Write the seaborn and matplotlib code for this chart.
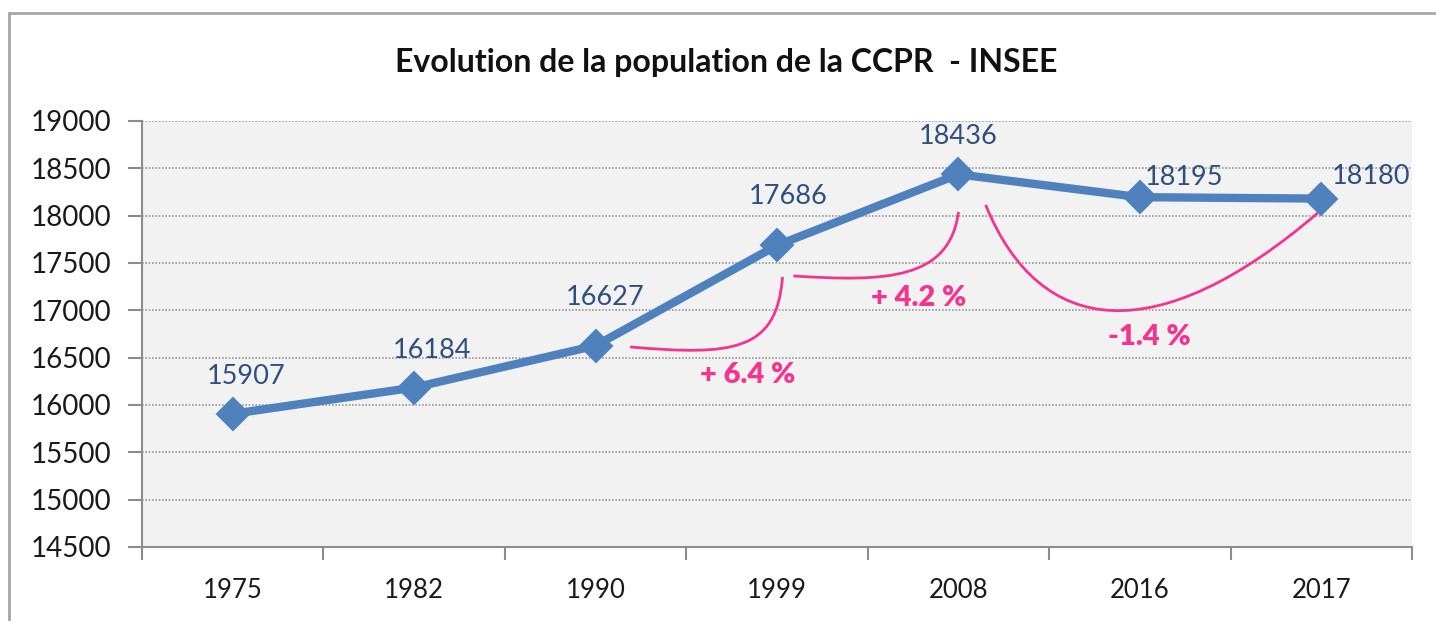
import pandas as pd
import matplotlib.pyplot as plt
import seaborn as sns
from matplotlib.path import Path
from matplotlib.patches import PathPatch
from matplotlib.lines import Line2D

# Data
annees = ["1975", "1982", "1990", "1999", "2008", "2016", "2017"]
population = [15907, 16184, 16627, 17686, 18436, 18195, 18180]
evolutions = ["+ 6.4 %", "+ 4.2 %", "-1.4 %"]

data = pd.DataFrame({"annee": annees, "population": population})

sns.set_style("white")
plt.rcParams['font.family'] = ['Lato', 'DejaVu Sans']

blue = "#4F81BD"
label_blue = "#2F4F7F"
pink = "#F2368E"

fig = plt.figure(figsize=(14.36, 6.21), dpi=100)
ax = fig.add_axes([0.0989, 0.1192, 0.8844, 0.686])
ax.set_facecolor("#F2F2F2")

sns.pointplot(data=data, x="annee", y="population", order=annees, ax=ax,
              color=blue, markers="D", errorbar=None,
              linewidth=6, markersize=13)

ax.set_xlim(-0.5, len(annees) - 0.5)
ax.set_ylim(14500, 19000)
ax.set_yticks(range(14500, 19001, 500))
ax.set_xlabel("")
ax.set_ylabel("")

# gridlines, Excel style dotted
for v in range(15000, 19001, 500):
    ax.axhline(v, color="#9A9A9A", linestyle=(0, (1, 1)), linewidth=1.2, zorder=0)

for side in ["top", "right"]:
    ax.spines[side].set_visible(False)
for side in ["left", "bottom"]:
    ax.spines[side].set_color("#8C8C8C")
    ax.spines[side].set_linewidth(1.5)

ax.tick_params(axis="y", direction="out", length=10, width=1.5, color="#8C8C8C",
               labelsize=20, labelcolor="#1A1A1A", pad=12, left=True)
ax.tick_params(axis="x", length=0, labelsize=18.5, labelcolor="#1A1A1A", pad=22)
ax.set_xticks(range(len(annees)), annees)
ax.set_xticks([i - 0.5 for i in range(len(annees) + 1)], minor=True)
ax.tick_params(axis="x", which="minor", direction="out", length=9, width=1.5,
               color="#8C8C8C", bottom=True)

# data labels around the points (offsets in points)
offsets = [(10, 26.5), (13, 27), (7, 35), (8, 35), (0, 27), (32, 14.5), (36, 16)]
for i, (v, off) in enumerate(zip(population, offsets)):
    ax.annotate(str(v), (i, v), xytext=off, textcoords="offset points",
                ha="center", va="center", fontsize=19.5, color=label_blue)

# hand drawn pink curves between the census years
curves = [
    [(2.19, 16613), (2.75, 16520), (3.0, 16560), (3.03, 17352)],
    [(3.09, 17363), (3.6, 17300), (3.95, 17320), (4.0, 18039)],
    [(4.15, 18113), (4.45, 16700), (5.1, 16580), (5.98, 18028)],
]
codes = [Path.MOVETO, Path.CURVE4, Path.CURVE4, Path.CURVE4]
for pts in curves:
    ax.add_patch(PathPatch(Path(pts, codes), facecolor="none", edgecolor=pink,
                           linewidth=2, zorder=4))

label_pos = [(2.84, 16317), (3.78, 17130), (5.05, 16718)]
for txt, (x, y) in zip(evolutions, label_pos):
    ax.text(x, y, txt, ha="center", va="center", fontsize=21,
            fontweight="heavy", color=pink)

fig.text(0.506, 0.90, "Evolution de la population de la CCPR  - INSEE",
         ha="center", va="center", fontsize=23, fontweight="bold", color="#111111")

# chart frame (only top and left edges are visible in the crop)
fig.add_artist(Line2D([9 / 1436, 9 / 1436], [0, 1 - 13 / 621],
                      transform=fig.transFigure, color="#A6A6A6", linewidth=2))
fig.add_artist(Line2D([9 / 1436, 1], [1 - 13 / 621, 1 - 13 / 621],
                      transform=fig.transFigure, color="#A6A6A6", linewidth=2))

fig.savefig("out.png", dpi=100)
